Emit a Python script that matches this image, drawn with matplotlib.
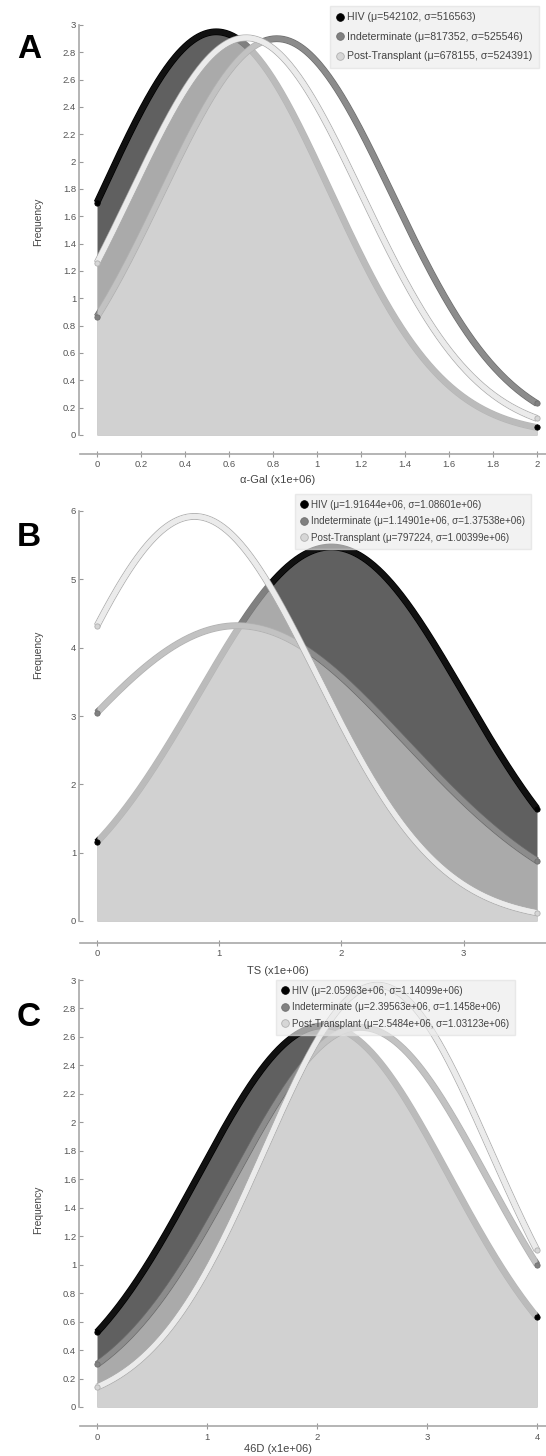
import numpy as np
import matplotlib
matplotlib.use("Agg")
import matplotlib.pyplot as plt
import matplotlib.patheffects as pe
from matplotlib.lines import Line2D

plt.rcParams['font.family'] = ['Liberation Sans', 'DejaVu Sans']

groups = ["HIV", "Indeterminate", "Post-Transplant"]

# fitted normal parameters printed in the legends
a_mu = [542102, 817352, 678155]
a_sigma = [516563, 525546, 524391]
b_mu = [1.91644e6, 1.14901e6, 797224]
b_sigma = [1.08601e6, 1.37538e6, 1.00399e6]
c_mu = [2.05963e6, 2.39563e6, 2.5484e6]
c_sigma = [1.14099e6, 1.1458e6, 1.03123e6]

# x range of each panel (x1e6) and frequency scale read from peak heights
x_max = [2.0, 3.6, 4.0]
freq_scale = [3.82, 14.9, 7.66]

panel_letters = ["A", "B", "C"]
x_labels = [u"\u03b1-Gal (x1e+06)", "TS (x1e+06)", "46D (x1e+06)"]
y_ticks = [np.arange(0, 3.01, 0.2), np.arange(0, 6.01, 1), np.arange(0, 3.01, 0.2)]
x_ticks = [np.arange(0, 2.01, 0.2), [0, 1, 2, 3], [0, 1, 2, 3, 4]]

line_core = ['#111111', '#8c8c8c', '#ebebeb']
line_edge = ['#000000', '#6e6e6e', '#b0b0b0']
mark_col = ['#000000', '#808080', '#d6d6d6']
fill_col = ['#606060', 'white', 'white']
fill_alpha = [1.0, 0.47, 0.47]

W, H = 546, 1456
fig = plt.figure(figsize=(W / 100, H / 100), dpi=100)

# pixel layout: (y0 pixel, ytop value, ytop pixel, axes top, axes bottom, spine outward pt,
#                letter y, ylabel y, xlabel y, legend top, legend left, label spacing, legend font)
layout = [
    (435, 3, 25, 8, 440, 10, 50, 222, 480, 6, 330, 0.9, 7.6),
    (921, 6, 511, 495, 925, 13, 538, 655, 971, 494, 295, 0.65, 7.1),
    (1407, 3, 980, 962, 1411, 11, 1018, 1210, 1449, 980, 276, 0.65, 7.1),
]

mus = [a_mu, b_mu, c_mu]
sigmas = [a_sigma, b_sigma, c_sigma]

for p in range(3):
    y0px, ytv, ytpx, T, B, bout, ly, yly, xly, legT, legL, lsp, lfs = layout[p]
    L, R = 92, 542
    x0px, x1px = 97, 537
    xm = x_max[p]
    ax = fig.add_axes([L / W, 1 - B / H, (R - L) / W, (B - T) / H])
    ax.patch.set_visible(False)
    ax.set_xlim((L - x0px) / (x1px - x0px) * xm, (R - x0px) / (x1px - x0px) * xm)
    ppu = (y0px - ytpx) / ytv
    ax.set_ylim((y0px - B) / ppu, (y0px - T) / ppu)

    x = np.linspace(0, xm, 400)
    for i in range(3):
        m = mus[p][i] / 1e6
        s = sigmas[p][i] / 1e6
        y = freq_scale[p] * np.exp(-0.5 * ((x - m) / s) ** 2) / (s * np.sqrt(2 * np.pi))
        ax.fill_between(x, 0, y, color=fill_col[i], alpha=fill_alpha[i], lw=0,
                        zorder=1 + 2 * i)
        ax.plot(x, y, color=line_core[i], lw=3.6, solid_capstyle='butt', zorder=2 + 2 * i,
                path_effects=[pe.withStroke(linewidth=4.9, foreground=line_edge[i]), pe.Normal()])
        ax.plot([x[0], x[-1]], [y[0], y[-1]], ls='none', marker='o', ms=3.8,
                mfc=mark_col[i], mec=line_edge[i], mew=0.6, zorder=10)

    for side in ['top', 'right']:
        ax.spines[side].set_visible(False)
    ax.spines['left'].set_position(('outward', 9.4))
    ax.spines['bottom'].set_position(('outward', bout))
    ax.spines['left'].set_bounds(0, y_ticks[p][-1])
    ax.spines['bottom'].set_bounds((80 - x0px) / (x1px - x0px) * xm, (546 - x0px) / (x1px - x0px) * xm)
    for side in ['left', 'bottom']:
        ax.spines[side].set_color('#a8a8a8')
        ax.spines[side].set_linewidth(1.2)
    ax.set_yticks(y_ticks[p])
    ax.set_yticklabels(['%g' % round(v, 1) for v in y_ticks[p]])
    ax.set_xticks(x_ticks[p])
    ax.set_xticklabels(['%g' % round(v, 1) for v in x_ticks[p]])
    ax.tick_params(axis='y', direction='in', length=3, width=0.8, color='#999999',
                   labelsize=6.8, labelcolor='#555555', pad=2)
    ax.tick_params(axis='x', direction='inout', length=5, width=0.8, color='#999999',
                   labelsize=6.8, labelcolor='#555555', pad=2)

    handles = [Line2D([], [], ls='none', marker='o', ms=5.5, mfc=mark_col[i], mec=line_edge[i],
                      mew=0.6) for i in range(3)]
    labels = ["%s (\u03bc=%g, \u03c3=%g)" % (groups[i], mus[p][i], sigmas[p][i]) for i in range(3)]
    leg = ax.legend(handles, labels, loc='upper left',
                    bbox_to_anchor=(legL / W, 1 - legT / H), bbox_transform=fig.transFigure,
                    fontsize=lfs, frameon=True, fancybox=False, borderaxespad=0,
                    handlelength=0.6, handletextpad=0.45, labelspacing=lsp,
                    borderpad=0.6, labelcolor='#444444')
    leg.get_frame().set_facecolor('#ececec')
    leg.get_frame().set_edgecolor('#e0e0e0')
    leg.get_frame().set_alpha(0.65)
    leg.set_zorder(20)

    fig.text(29 / W, 1 - ly / H, panel_letters[p], fontsize=24, fontweight='bold',
             ha='center', va='center')
    fig.text(38 / W, 1 - yly / H, "Frequency", rotation=90, fontsize=7.4, color='#444444',
             ha='center', va='center')
    fig.text(278 / W, 1 - xly / H, x_labels[p], fontsize=8, color='#444444',
             ha='center', va='center')

fig.savefig("out.png", dpi=100)
